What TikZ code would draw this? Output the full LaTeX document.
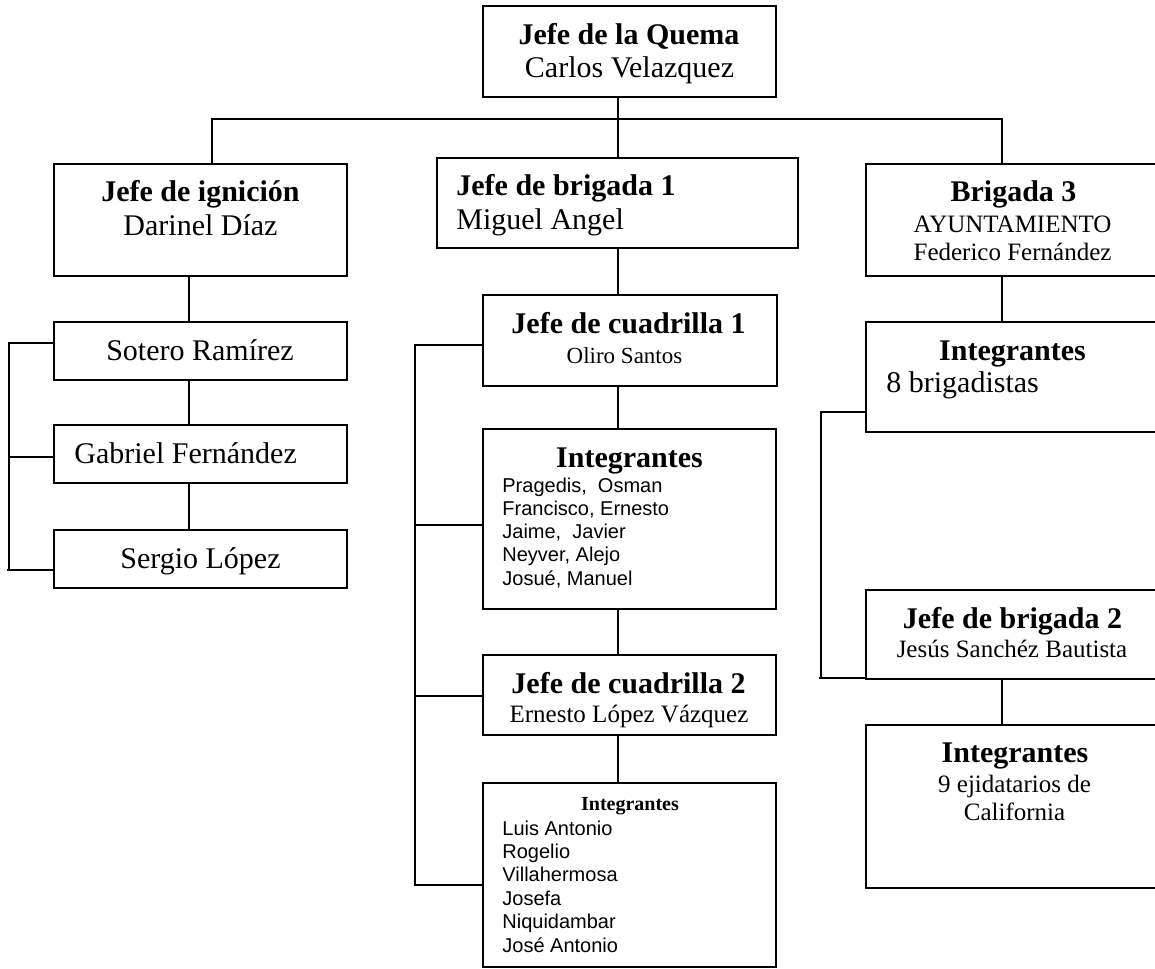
\documentclass[tikz,border=0pt]{standalone}
\usepackage{fontspec}
\setmainfont{Liberation Serif}
\setsansfont{Liberation Sans}

\tikzset{
    box/.style={draw, line width=1pt, inner sep=0pt, outer sep=0pt},
    boxsize/.style 2 args={minimum width=#1*0.5pt, minimum height=#2*0.5pt},
    titulo/.style={font=\fontsize{15}{18}\selectfont\bfseries, anchor=base, inner sep=0pt},
    nombre/.style={font=\fontsize{15}{18}\selectfont, anchor=base, inner sep=0pt},
    nombrechico/.style={font=\fontsize{12.5}{15}\selectfont, anchor=base, inner sep=0pt},
    lista/.style={font=\sffamily\fontsize{10}{12}\selectfont, anchor=base west, inner sep=0pt},
    conector/.style={line width=1pt}
}

\begin{document}
\begin{tikzpicture}[x=0.5pt, y=-0.5pt]

    \useasboundingbox (0, 0) rectangle (1155, 968);
    \clip (0, 0) rectangle (1155, 968);

    %% Boxes
    % Top
    \node[box, boxsize={293}{91}] (quema) at (629.5, 51.5) {};

    % Second row
    \node[box, boxsize={293}{112}] (ignicion) at (200.5, 220) {};
    \node[box, boxsize={361}{90}] (brig1) at (617.5, 203) {};
    \node[box, boxsize={293}{112}] (brig3) at (1012.5, 220) {};

    % Left column
    \node[box, boxsize={293}{58}] (sotero) at (200.5, 351) {};
    \node[box, boxsize={293}{58}] (gabriel) at (200.5, 454) {};
    \node[box, boxsize={293}{58}] (sergio) at (200.5, 559) {};

    % Middle column
    \node[box, boxsize={294}{91}] (cuad1) at (630, 340.5) {};
    \node[box, boxsize={293}{180}] (int1) at (629.5, 519) {};
    \node[box, boxsize={293}{80}] (cuad2) at (629.5, 695) {};
    \node[box, boxsize={293}{184}] (int2) at (629.5, 875) {};

    % Right column
    \node[box, boxsize={293}{110}] (int8) at (1012.5, 377) {};
    \node[box, boxsize={293}{89}] (brig2) at (1012.5, 634.5) {};
    \node[box, boxsize={293}{163}] (int9) at (1012.5, 806.5) {};

    %% Connectors
    \coordinate (busL) at (212, 119);
    \coordinate (busM) at (618, 119);
    \coordinate (busR) at (1002, 119);
    \draw[conector] (ignicion.north -| busL) -- (busL) -- (busR) -- (brig3.north -| busR);
    \draw[conector] (quema.south -| busM) -- (brig1.north -| busM);

    % Left chain
    \coordinate (colL) at (189, 0);
    \draw[conector] (ignicion.south -| colL) -- (sotero.north -| colL);
    \draw[conector] (sotero.south -| colL) -- (gabriel.north -| colL);
    \draw[conector] (gabriel.south -| colL) -- (sergio.north -| colL);
    \draw[conector] (sotero.west |- 0, 343) -- (9, 343) -- (9, 570);
    \draw[conector] (7, 570) -- (sergio.west |- 0, 570);
    \draw[conector] (9, 457) -- (gabriel.west |- 0, 457);

    % Middle chain
    \draw[conector] (brig1.south -| busM) -- (cuad1.north -| busM);
    \draw[conector] (cuad1.south -| busM) -- (int1.north -| busM);
    \draw[conector] (int1.south -| busM) -- (cuad2.north -| busM);
    \draw[conector] (cuad2.south -| busM) -- (int2.north -| busM);
    \draw[conector] (cuad1.west |- 0, 345) -- (415, 345) -- (415, 885) -- (int2.west |- 0, 885);
    \draw[conector] (415, 525) -- (int1.west |- 0, 525);
    \draw[conector] (415, 696) -- (cuad2.west |- 0, 696);

    % Right chain
    \draw[conector] (brig3.south -| busR) -- (int8.north -| busR);
    \draw[conector] (brig2.south -| busR) -- (int9.north -| busR);
    \draw[conector] (int8.west |- 0, 412) -- (821, 412) -- (821, 679);
    \draw[conector] (819, 678) -- (brig2.west |- 0, 678);

    %% Texts
    \node[titulo] (quemaT) at (629, 45) {Jefe de la Quema};
    \node[nombre] (quemaN) at (629.5, 78) {Carlos Velazquez};

    \node[titulo] (ignicionT) at (200.5, 202) {Jefe de ignición};
    \node[nombre] (ignicionN) at (200.5, 235) {Darinel Díaz};

    \node[titulo, anchor=base west] (brig1T) at (456, 196) {Jefe de brigada 1};
    \node[nombre, anchor=base west] (brig1N) at (456, 229) {Miguel Angel};

    \node[titulo] (brig3T) at (1013.5, 202) {Brigada 3};
    \node[nombrechico] (brig3A) at (1012.5, 233) {AYUNTAMIENTO};
    \node[nombrechico] (brig3N) at (1012.5, 260) {Federico Fernández};

    \node[nombre] (soteroN) at (200, 360) {Sotero Ramírez};
    \node[nombre, anchor=base west] (gabrielN) at (74, 463) {Gabriel Fernández};
    \node[nombre] (sergioN) at (200.5, 568) {Sergio López};

    \node[titulo] (cuad1T) at (628.5, 333) {Jefe de cuadrilla 1};
    \node[nombre, font=\fontsize{11.5}{14}\selectfont] (cuad1N) at (624.5, 363) {Oliro Santos};

    \node[titulo] (int1T) at (629.5, 467) {Integrantes};
    \foreach \nom [count=\i] in {{Pragedis,~ Osman}, {Francisco, Ernesto}, {Jaime,~ Javier}, {Neyver, Alejo}, {Josué, Manuel}}
        \node[lista] (int1L\i) at (502, {492 + 23.25*(\i-1)}) {\nom};

    \node[titulo] (cuad2T) at (628.5, 693) {Jefe de cuadrilla 2};
    \node[nombrechico] (cuad2N) at (629, 722) {Ernesto López Vázquez};

    \node[titulo, font=\fontsize{10}{12}\selectfont\bfseries] (int2T) at (630, 810) {Integrantes};
    \foreach \nom [count=\i] in {Luis Antonio, Rogelio, Villahermosa, Josefa, Niquidambar, José Antonio}
        \node[lista] (int2L\i) at (502, {835 + 23.4*(\i-1)}) {\nom};

    \node[titulo] (int8T) at (1012.5, 360) {Integrantes};
    \node[nombre, anchor=base west] (int8N) at (886, 392) {8 brigadistas};

    \node[titulo] (brig2T) at (1012.5, 628) {Jefe de brigada 2};
    \node[nombrechico] (brig2N) at (1012, 657) {Jesús Sanchéz Bautista};

    \node[titulo] (int9T) at (1015, 762) {Integrantes};
    \node[nombrechico] (int9N) at (1014.5, 792) {9 ejidatarios de};
    \node[nombrechico] (int9C) at (1014.5, 820) {California};

\end{tikzpicture}
\end{document}
